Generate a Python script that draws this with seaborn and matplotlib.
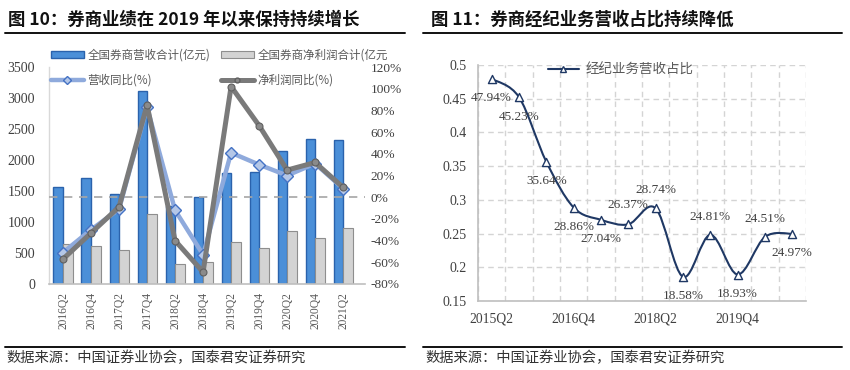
import numpy as np
import pandas as pd
import matplotlib
matplotlib.use("Agg")
import matplotlib.pyplot as plt
import seaborn as sns
from matplotlib.patches import Patch, PathPatch
from matplotlib.lines import Line2D
from matplotlib.path import Path
from matplotlib.ticker import FuncFormatter, FixedLocator

# ---------------- data ----------------
quarters = ['2016Q2', '2016Q4', '2017Q2', '2017Q4', '2018Q2', '2018Q4',
            '2019Q2', '2019Q4', '2020Q2', '2020Q4', '2021Q2']
revenue = [1570, 1710, 1445, 3110, 1265, 1400, 1790, 1810, 2145, 2345, 2325]
net_profit = [640, 620, 555, 1130, 330, 350, 680, 575, 850, 745, 905]
rev_yoy = [-51, -30, -11, 83, -12, -53, 41, 30, 20, 31, 8]
np_yoy = [-57, -33, -9, 85, -40, -69, 102, 66, 25, 32, 9]
left_ticks = [0, 500, 1000, 1500, 2000, 2500, 3000, 3500]
right_ticks = [-80, -60, -40, -20, 0, 20, 40, 60, 80, 100, 120]

periods = ['2015Q2', '2015Q4', '2016Q2', '2016Q4', '2017Q2', '2017Q4',
           '2018Q2', '2018Q4', '2019Q2', '2019Q4', '2020Q2', '2020Q4']
brokerage_share = [0.4794, 0.4523, 0.3564, 0.2886, 0.2704, 0.2637,
                   0.2874, 0.1858, 0.2481, 0.1893, 0.2451, 0.2497]
share_ticks = [0.15, 0.2, 0.25, 0.3, 0.35, 0.4, 0.45, 0.5]
shown_periods = ['2015Q2', '2016Q4', '2018Q2', '2019Q4']

label_rev = '全国券商营收合计(亿元)'
label_np = '全国券商净利润合计(亿元'
label_rev_yoy = '营收同比(%)'
label_np_yoy = '净利润同比(%)'
label_share = '经纪业务营收占比'
title_left = '图 10：券商业绩在 2019 年以来保持持续增长'
title_right = '图 11：券商经纪业务营收占比持续降低'
source = '数据来源：中国证券业协会，国泰君安证券研究'

# ---------------- styles ----------------
sns.set_theme(style='white')
plt.rcParams['font.family'] = ['Liberation Serif', 'Noto Sans CJK SC', 'DejaVu Sans']
CJK = ['Noto Sans CJK SC', 'DejaVu Sans']
SERIF = ['Liberation Serif', 'DejaVu Serif']

BLUE = '#4B8FD8'
BLUE_EDGE = '#2A62AC'
GREY = '#D3D3D3'
GREY_EDGE = '#8E8E8E'
LBLUE = '#8FAADC'
DGREY = '#7A7A7A'
NAVY = '#1F3864'
TXT = '#404040'
GRID = '#D4D4D4'

W, H = 850, 370
fig = plt.figure(figsize=(W / 100, H / 100), dpi=100)


def fx(px):
    return px / W


def fy(py):
    return 1 - py / H


# ---------------- left chart ----------------
ax1 = fig.add_axes([fx(49), fy(284), fx(365) - fx(49), fy(67) - fy(284)])
df = pd.DataFrame({
    'quarter': quarters * 2,
    'value': revenue + net_profit,
    'series': [label_rev] * len(quarters) + [label_np] * len(quarters),
})
sns.barplot(data=df, x='quarter', y='value', hue='series', palette=[BLUE, GREY],
            width=0.68, saturation=1, ax=ax1, legend=False)
for bar in ax1.containers[0]:
    bar.set_edgecolor(BLUE_EDGE)
    bar.set_linewidth(1.0)
for bar in ax1.containers[1]:
    bar.set_edgecolor(GREY_EDGE)
    bar.set_linewidth(0.8)

ax1.set_xlim(-0.5, len(quarters) - 0.5 + 0.28)
ax1.set_ylim(left_ticks[0], left_ticks[-1])
ax1.set_yticks(left_ticks)
ax1.set_xlabel('')
ax1.set_ylabel('')
ax1.tick_params(axis='y', length=0, pad=10, labelsize=10, labelcolor=TXT)
ax1.tick_params(axis='x', length=0, pad=6, labelsize=8.3, labelcolor='#595959',
                labelrotation=90)
for lab in ax1.get_xticklabels() + ax1.get_yticklabels():
    lab.set_family(SERIF)
for s in ['top', 'right']:
    ax1.spines[s].set_visible(False)
ax1.spines['left'].set_color('#D9D9D9')
ax1.spines['bottom'].set_color('#BFBFBF')
ax1.spines['left'].set_linewidth(1.0)
ax1.spines['bottom'].set_linewidth(1.2)

ax2 = ax1.twinx()
ax2.axhline(0, color='#A6A6A6', lw=1.2, ls=(0, (5, 4)), zorder=1)
xpos = np.arange(len(quarters))
sns.lineplot(x=xpos, y=rev_yoy, ax=ax2, color=LBLUE, lw=3.2, marker='D',
             markersize=6, markerfacecolor='#B4C7E7', markeredgecolor='#4472C4',
             markeredgewidth=1.0, sort=False, zorder=3)
sns.lineplot(x=xpos, y=np_yoy, ax=ax2, color=DGREY, lw=3.6, marker='o',
             markersize=5, markerfacecolor='#8A8A8A', markeredgecolor='#606060',
             markeredgewidth=0.8, sort=False, zorder=4)
ax2.set_ylim(right_ticks[0], right_ticks[-1])
ax2.set_yticks(right_ticks)
ax2.yaxis.set_major_formatter(FuncFormatter(lambda v, p: f'{v:.0f}%'))
ax2.tick_params(axis='y', length=0, pad=4, labelsize=9.6, labelcolor=TXT)
for lab in ax2.get_yticklabels():
    lab.set_family(SERIF)
for s in ax2.spines.values():
    s.set_visible(False)
ax2.set_ylabel('')

handles = [
    Patch(facecolor=BLUE, edgecolor=BLUE_EDGE, linewidth=1.0),
    Line2D([], [], color=LBLUE, lw=3.2, marker='D', markersize=4,
           markerfacecolor='#B4C7E7', markeredgecolor='#4472C4'),
    Patch(facecolor=GREY, edgecolor=GREY_EDGE, linewidth=0.8),
    Line2D([], [], color=DGREY, lw=3.6, marker='o', markersize=3.5,
           markerfacecolor='#8A8A8A', markeredgecolor='#606060'),
]
labels = [label_rev, label_rev_yoy, label_np, label_np_yoy]
leg = fig.legend(handles, labels, ncol=2, loc='upper left',
                 bbox_to_anchor=(fx(45), fy(43)), bbox_transform=fig.transFigure,
                 frameon=False, borderpad=0, handlelength=2.9, handleheight=0.55,
                 handletextpad=0.3, labelspacing=1.0, columnspacing=0.9,
                 prop={'family': CJK, 'size': 8.3})
for t in leg.get_texts():
    t.set_color('#595959')

# ---------------- right chart ----------------
ax3 = fig.add_axes([fx(478), fy(301), fx(806) - fx(478), fy(65) - fy(301)])
n = len(periods)
xs = np.arange(n, dtype=float)
ys = np.array(brokerage_share, dtype=float)
pts = np.column_stack([xs, ys])
verts = [tuple(pts[0])]
codes = [Path.MOVETO]
for i in range(n - 1):
    p0 = pts[max(i - 1, 0)]
    p1 = pts[i]
    p2 = pts[i + 1]
    p3 = pts[min(i + 2, n - 1)]
    c1 = p1 + (p2 - p0) / 6.0
    c2 = p2 - (p3 - p1) / 6.0
    verts += [tuple(c1), tuple(c2), tuple(p2)]
    codes += [Path.CURVE4] * 3
ax3.add_patch(PathPatch(Path(verts, codes), facecolor='none', edgecolor=NAVY,
                        lw=1.5, zorder=3))
sns.scatterplot(x=xs, y=ys, ax=ax3, marker='^', s=34, color='white',
                edgecolor=NAVY, linewidth=1.0, zorder=4, legend=False)

ax3.set_xlim(-0.5, n - 0.5)
ax3.set_ylim(share_ticks[0], share_ticks[-1])
ax3.set_yticks(share_ticks)
ax3.yaxis.set_major_formatter(FuncFormatter(lambda v, p: f'{v:g}'))
tick_idx = [periods.index(p) for p in shown_periods]
ax3.set_xticks(tick_idx)
ax3.set_xticklabels(shown_periods)
ax3.xaxis.set_minor_locator(FixedLocator(np.arange(n + 1) - 0.5))
ax3.grid(False)
ax3.grid(axis='x', which='minor', color=GRID, ls=(0, (4, 3)), lw=1.0)
ax3.grid(axis='y', which='major', color=GRID, ls=(0, (4, 3)), lw=1.0)
ax3.set_axisbelow(True)
ax3.tick_params(axis='both', which='both', length=0)
ax3.tick_params(axis='y', pad=8, labelsize=10, labelcolor=TXT)
ax3.tick_params(axis='x', pad=8, labelsize=9.8, labelcolor=TXT)
for lab in ax3.get_xticklabels() + ax3.get_yticklabels():
    lab.set_family(SERIF)
for s in ['top', 'right']:
    ax3.spines[s].set_visible(False)
ax3.spines['left'].set_color('#BFBFBF')
ax3.spines['bottom'].set_color('#BFBFBF')
ax3.spines['left'].set_linewidth(1.2)
ax3.spines['bottom'].set_linewidth(1.2)
ax3.set_xlabel('')
ax3.set_ylabel('')

label_dy = [-14, -14, -14, -14, -14, 14, 13, -14, 13, -14, 13, -14]
for xi, yi, dy in zip(xs, ys, label_dy):
    ax3.annotate(f'{yi * 100:.2f}%', (xi, yi), xytext=(0, dy),
                 textcoords='offset points', ha='center', va='center',
                 fontsize=9.5, color=TXT, family=SERIF, zorder=5)

leg2 = ax3.legend([Line2D([], [], color=NAVY, lw=1.5, marker='^', markersize=5,
                          markerfacecolor='white', markeredgecolor=NAVY)],
                  [label_share], loc='center left',
                  bbox_to_anchor=(fx(541), fy(70)), bbox_transform=fig.transFigure,
                  frameon=False, borderpad=0, handlelength=2.3, handletextpad=0.5,
                  prop={'family': CJK, 'size': 9.7})
for t in leg2.get_texts():
    t.set_color('#595959')

# ---------------- titles / rules / footers ----------------
fig.text(fx(8), fy(20), title_left, ha='left', va='center', fontsize=12.5,
         fontweight='bold', family=CJK, color='#111111')
fig.text(fx(431), fy(20), title_right, ha='left', va='center', fontsize=12.5,
         fontweight='bold', family=CJK, color='#111111')
for x0, x1 in [(5, 405), (423, 842)]:
    fig.add_artist(Line2D([fx(x0), fx(x1)], [fy(33), fy(33)], color='#111111', lw=1.4,
                          transform=fig.transFigure))
    fig.add_artist(Line2D([fx(x0), fx(x1)], [fy(347), fy(347)], color='#111111', lw=1.4,
                          transform=fig.transFigure))
fig.text(fx(6), fy(358), source, ha='left', va='center', fontsize=10.3,
         family=CJK, color='#333333')
fig.text(fx(425), fy(358), source, ha='left', va='center', fontsize=10.3,
         family=CJK, color='#333333')

fig.savefig('out.png', dpi=100, facecolor='white')
